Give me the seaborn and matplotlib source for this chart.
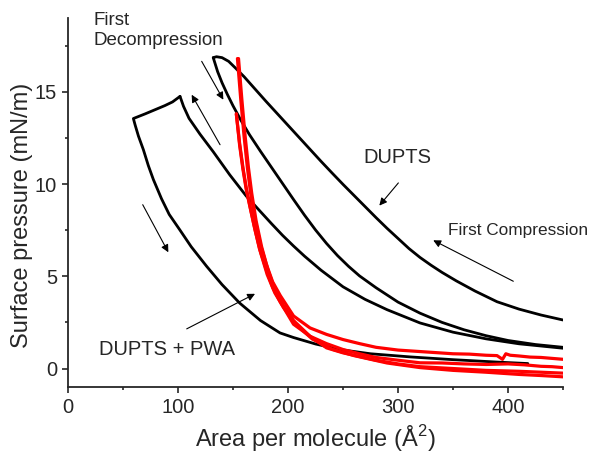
import numpy as np
import pandas as pd
import matplotlib
matplotlib.use("Agg")
import matplotlib.pyplot as plt
import seaborn as sns
from matplotlib.ticker import MultipleLocator

# DUPTS isotherms (black)
a_x = [450, 430, 410, 390, 370, 353, 340, 330, 320, 310, 300, 290, 280, 270, 260, 250, 240, 230, 220, 210, 200, 190, 180, 170, 160, 152, 146, 140, 135, 132]
a_y = [2.63, 2.9, 3.22, 3.62, 4.2, 4.75, 5.21, 5.6, 6.02, 6.5, 7.05, 7.6, 8.18, 8.78, 9.38, 9.98, 10.6, 11.23, 11.88, 12.53, 13.18, 13.83, 14.48, 15.15, 15.82, 16.3, 16.65, 16.85, 16.9, 16.85]

b_x = [132, 136, 140, 145, 150, 157, 165, 175, 185, 195, 205, 215, 225, 235, 245, 255, 265, 280, 300, 320, 340, 360, 380, 400, 425, 450]
b_y = [16.85, 16.09, 15.49, 14.84, 14.24, 13.47, 12.67, 11.77, 10.9, 10.03, 9.16, 8.31, 7.51, 6.78, 6.12, 5.54, 5.02, 4.38, 3.6, 3.0, 2.5, 2.1, 1.78, 1.52, 1.3, 1.15]

c_x = [101.8, 105, 110, 120, 132, 147, 162, 175, 185, 195, 205, 215, 230, 250, 270, 290, 320, 350, 380, 410, 450]
c_y = [14.75, 14.21, 13.56, 12.7, 11.75, 10.5, 9.35, 8.5, 7.85, 7.22, 6.64, 6.09, 5.33, 4.43, 3.75, 3.19, 2.47, 1.97, 1.61, 1.34, 1.1]

d_x = [101.8, 95, 88, 80, 70, 59.4, 61, 64, 68.5, 73, 77.6, 85, 92, 101.8, 112, 126, 140, 156, 175, 192.7, 205, 225, 247, 275, 311, 350, 390, 418]
d_y = [14.75, 14.45, 14.25, 14.05, 13.8, 13.55, 13.2, 12.6, 11.86, 11.0, 10.24, 9.2, 8.35, 7.5, 6.6, 5.54, 4.55, 3.55, 2.6, 1.93, 1.68, 1.33, 1.03, 0.8, 0.63, 0.48, 0.35, 0.27]

# DUPTS + PWA isotherms (red)
r1_x = [154, 157, 160, 163, 166, 170, 175, 180, 186, 193, 205, 220, 235, 250, 265, 280, 300, 320, 335, 350, 365, 380, 390, 395, 398, 402, 410, 420, 430, 440, 450]
r1_y = [16.8, 14.6, 12.6, 10.9, 9.5, 8.1, 6.7, 5.7, 4.7, 3.95, 2.85, 2.2, 1.85, 1.57, 1.35, 1.15, 1.0, 0.92, 0.86, 0.8, 0.78, 0.72, 0.7, 0.5, 0.8, 0.72, 0.68, 0.62, 0.6, 0.55, 0.5]
r2_x = [153, 156, 159, 162, 165, 169, 174, 180, 186, 193, 205, 220, 235, 250, 265, 280, 300, 320, 340, 360, 380, 400, 415, 430, 440, 450]
r2_y = [13.8, 12.2, 10.9, 9.8, 8.9, 7.8, 6.5, 5.4, 4.4, 3.6, 2.4, 1.75, 1.35, 1.03, 0.8, 0.6, 0.45, 0.31, 0.3, 0.25, 0.22, 0.25, 0.2, 0.12, 0.1, 0.05]
r3_x = [155, 158, 161, 164, 167, 171, 176, 182, 188, 195, 205, 220, 235, 250, 265, 280, 300, 320, 350, 380, 410, 430, 450]
r3_y = [16.8, 14.6, 12.6, 10.9, 9.5, 8.0, 6.6, 5.3, 4.3, 3.5, 2.6, 1.75, 1.12, 0.85, 0.65, 0.45, 0.25, 0.1, 0.0, -0.1, -0.15, -0.2, -0.25]
r4_x = [153, 156, 159, 162, 166, 170, 175, 181, 188, 196, 207, 222, 240, 260, 290, 320, 350, 380, 410, 430, 450]
r4_y = [13.8, 12.1, 10.8, 9.7, 8.6, 7.5, 6.3, 5.1, 4.1, 3.3, 2.4, 1.6, 1.05, 0.7, 0.3, 0.05, -0.1, -0.2, -0.32, -0.38, -0.45]

sns.set_style("ticks")
plt.rcParams["font.family"] = ["Liberation Sans", "DejaVu Sans"]
plt.rcParams["mathtext.fontset"] = "custom"
plt.rcParams["mathtext.rm"] = "Liberation Sans"

fig = plt.figure(figsize=(5.9, 4.55), dpi=100)
ax = fig.add_axes([0.1153, 0.1495, 0.8390, 0.8110])

for xs, ys in [(a_x, a_y), (b_x, b_y), (c_x, c_y), (d_x, d_y)]:
    sns.lineplot(x=xs, y=ys, sort=False, estimator=None, color="black", lw=2.0, ax=ax)
for xs, ys in [(r1_x, r1_y), (r2_x, r2_y), (r3_x, r3_y), (r4_x, r4_y)]:
    sns.lineplot(x=xs, y=ys, sort=False, estimator=None, color="#ff0000", lw=2.3, ax=ax)

ax.set_xlim(0, 450)
ax.set_ylim(-1, 19)
ax.xaxis.set_major_locator(MultipleLocator(100))
ax.xaxis.set_minor_locator(MultipleLocator(50))
ax.yaxis.set_major_locator(MultipleLocator(5))
ax.yaxis.set_minor_locator(MultipleLocator(2.5))
ax.tick_params(which="major", length=4, width=1.2, labelsize=14.5, pad=4)
ax.tick_params(which="minor", length=2.5, width=1.2)
for s in ["top", "right"]:
    ax.spines[s].set_visible(False)
for s in ["left", "bottom"]:
    ax.spines[s].set_linewidth(1.3)

ax.set_xlabel("Area per molecule (Å$^2$)", fontsize=17)
ax.set_ylabel("Surface pressure (mN/m)", fontsize=17)
ax.xaxis.set_label_coords(0.5, -0.097)
ax.yaxis.set_label_coords(-0.07, 0.466)

ax.text(23, 19.35, "First\nDecompression", fontsize=13.5, ha="left", va="top", linespacing=1.25)
ax.text(299, 11.43, "DUPTS", fontsize=14.5, ha="center", va="center")
ax.text(90, 1.03, "DUPTS + PWA", fontsize=14.5, ha="center", va="center")
ax.text(345.5, 7.48, "First Compression", fontsize=12.4, ha="left", va="center")

arrows = [
    ((121.5, 16.65), (141.2, 14.57)),
    ((138.2, 12.13), (112.4, 14.84)),
    ((300.3, 10.06), (283.0, 8.83)),
    ((404.8, 4.73), (332.0, 6.95)),
    ((67.9, 8.88), (91.2, 6.3)),
    ((107.9, 2.15), (170.0, 4.05)),
]
for tail, head in arrows:
    ax.annotate("", xy=head, xytext=tail,
                arrowprops=dict(arrowstyle="-|>", color="black", lw=0.8,
                                mutation_scale=11, shrinkA=0, shrinkB=0))

fig.savefig("out.png", dpi=100)
